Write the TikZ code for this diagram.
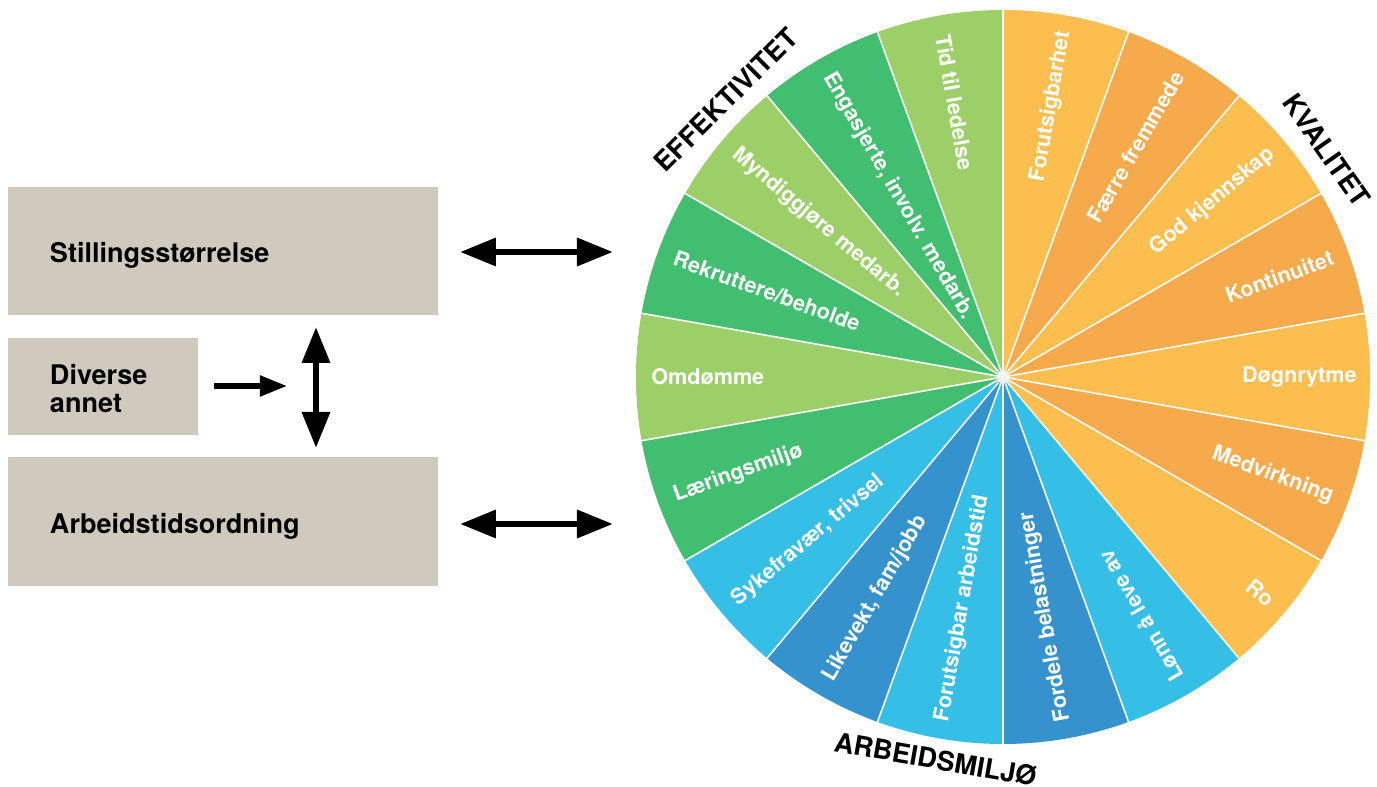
\documentclass[tikz,border=0pt]{standalone}
\usepackage{fontspec}
\setmainfont{TeX Gyre Heros}
\usepackage{tikz}
\usetikzlibrary{arrows.meta}
\pgfdeclarelayer{edgelayer}
\pgfdeclarelayer{nodelayer}
\pgfsetlayers{edgelayer,nodelayer,main}
\definecolor{lgreen}{HTML}{9CCF68}
\definecolor{dgreen}{HTML}{41BE6F}
\definecolor{lyellow}{HTML}{FBBE4F}
\definecolor{dorange}{HTML}{F6AA4C}
\definecolor{lblue}{HTML}{35BFE7}
\definecolor{dblue}{HTML}{3592CD}
\definecolor{sand}{HTML}{D0C9BD}
\tikzstyle{none} = []
\tikzstyle{sand box}=[fill=sand, inner xsep=0.84cm, inner ysep=0, align=left, font=\bfseries\fontsize{15.4}{16}\selectfont]
\tikzstyle{wheel label}=[text=white, inner sep=0, font=\bfseries\fontsize{12.3}{14}\selectfont]
\tikzstyle{group label}=[inner sep=0, font=\bfseries\fontsize{15.4}{16}\selectfont]
\tikzstyle{slice line}=[white, line width=0.9pt]
\tikzstyle{new edge style 1}=[{Triangle[length=0.72cm,width=0.54cm]}-{Triangle[length=0.72cm,width=0.54cm]}, line width=0.13cm]
\tikzstyle{new edge style 2}=[-{Triangle[length=0.54cm,width=0.4cm]}, line width=0.105cm]

\begin{document}
\begin{tikzpicture}
	\useasboundingbox (-20.06, -8.2) rectangle (7.48, 7.54);
	\begin{pgfonlayer}{nodelayer}
		\node [style=sand box, text width=6.92cm, text height=0.59cm, text depth=0.11cm, minimum height=2.56cm] (0) at (-15.6, 2.52) {Stillingsstørrelse};
		\node [style=sand box, text width=2.12cm, minimum height=1.94cm] (1) at (-18, -0.19) {\rule{0pt}{0.5cm}Diverse\\annet};
		\node [style=sand box, text width=6.92cm, text height=0.59cm, text depth=0.11cm, minimum height=2.58cm] (2) at (-15.6, -2.89) {Arbeidstidsordning};
		\node [style=none] (3) at (-10.86, 2.5) {};
		\node [style=none] (4) at (-7.8, 2.5) {};
		\node [style=none] (5) at (-10.86, -2.94) {};
		\node [style=none] (6) at (-7.8, -2.94) {};
		\node [style=none] (7) at (-13.74, 1) {};
		\node [style=none] (8) at (-13.74, -1.42) {};
		\node [style=none] (9) at (-15.78, -0.18) {};
		\node [style=none] (10) at (-14.32, -0.18) {};
		\node [style=wheel label, anchor=east, rotate=80] (11) at (80:7.02) {Forutsigbarhet};
		\node [style=wheel label, anchor=east, rotate=60] (12) at (60:7.02) {Færre fremmede};
		\node [style=wheel label, anchor=east, rotate=40] (13) at (40:7.02) {God kjennskap};
		\node [style=wheel label, anchor=east, rotate=20] (14) at (20:7.02) {Kontinuitet};
		\node [style=wheel label, anchor=east, rotate=0] (15) at (0:7.08) {Døgnrytme};
		\node [style=wheel label, anchor=east, rotate=-20] (16) at (-20:7.02) {Medvirkning};
		\node [style=wheel label, anchor=east, rotate=-40] (17) at (-40:7.02) {Ro};
		\node [style=wheel label, anchor=west, rotate=120] (18) at (-60:7) {Lønn å leve av};
		\node [style=wheel label, anchor=west, rotate=100] (19) at (-80:7) {Fordele belastninger};
		\node [style=wheel label, anchor=west, rotate=80] (20) at (-100:7) {Forutsigbar arbeidstid};
		\node [style=wheel label, anchor=west, rotate=60] (21) at (-120:7) {Likevekt, fam/jobb};
		\node [style=wheel label, anchor=west, rotate=40] (22) at (-140:7) {Sykefravær, trivsel};
		\node [style=wheel label, anchor=west, rotate=20] (23) at (-160:7) {Læringsmiljø};
		\node [style=wheel label, anchor=west, rotate=0] (24) at (180:7.04) {Omdømme};
		\node [style=wheel label, anchor=west, rotate=-20] (25) at (160:7) {Rekruttere/beholde};
		\node [style=wheel label, anchor=west, rotate=-40] (26) at (140:7) {Myndiggjøre medarb.};
		\node [style=wheel label, anchor=west, rotate=-60] (27) at (120:7) {Engasjerte, involv. medarb.};
		\node [style=wheel label, anchor=west, rotate=-80] (28) at (100:6.96) {Tid til ledelse};
		\node [style=group label, rotate=45] (29) at (135:7.84) {EFFEKTIVITET};
		\node [style=group label, rotate=-55] (30) at (35:7.9) {KVALITET};
		\node [style=group label, rotate=-10] (31) at (-100:7.76) {ARBEIDSMILJØ};
	\end{pgfonlayer}
	\begin{pgfonlayer}{edgelayer}
		\fill [lyellow] (0,0) -- (90:7.34) arc (90:70:7.34) -- cycle;
		\fill [dorange] (0,0) -- (70:7.34) arc (70:50:7.34) -- cycle;
		\fill [lyellow] (0,0) -- (50:7.34) arc (50:30:7.34) -- cycle;
		\fill [dorange] (0,0) -- (30:7.34) arc (30:10:7.34) -- cycle;
		\fill [lyellow] (0,0) -- (10:7.34) arc (10:-10:7.34) -- cycle;
		\fill [dorange] (0,0) -- (-10:7.34) arc (-10:-30:7.34) -- cycle;
		\fill [lyellow] (0,0) -- (-30:7.34) arc (-30:-50:7.34) -- cycle;
		\fill [lblue] (0,0) -- (-50:7.34) arc (-50:-70:7.34) -- cycle;
		\fill [dblue] (0,0) -- (-70:7.34) arc (-70:-90:7.34) -- cycle;
		\fill [lblue] (0,0) -- (-90:7.34) arc (-90:-110:7.34) -- cycle;
		\fill [dblue] (0,0) -- (-110:7.34) arc (-110:-130:7.34) -- cycle;
		\fill [lblue] (0,0) -- (-130:7.34) arc (-130:-150:7.34) -- cycle;
		\fill [dgreen] (0,0) -- (-150:7.34) arc (-150:-170:7.34) -- cycle;
		\fill [lgreen] (0,0) -- (190:7.34) arc (190:170:7.34) -- cycle;
		\fill [dgreen] (0,0) -- (170:7.34) arc (170:150:7.34) -- cycle;
		\fill [lgreen] (0,0) -- (150:7.34) arc (150:130:7.34) -- cycle;
		\fill [dgreen] (0,0) -- (130:7.34) arc (130:110:7.34) -- cycle;
		\fill [lgreen] (0,0) -- (110:7.34) arc (110:90:7.34) -- cycle;
		\draw [style=slice line] (0,0) -- (90:7.34);
		\draw [style=slice line] (0,0) -- (70:7.34);
		\draw [style=slice line] (0,0) -- (50:7.34);
		\draw [style=slice line] (0,0) -- (30:7.34);
		\draw [style=slice line] (0,0) -- (10:7.34);
		\draw [style=slice line] (0,0) -- (-10:7.34);
		\draw [style=slice line] (0,0) -- (-30:7.34);
		\draw [style=slice line] (0,0) -- (-50:7.34);
		\draw [style=slice line] (0,0) -- (-70:7.34);
		\draw [style=slice line] (0,0) -- (-90:7.34);
		\draw [style=slice line] (0,0) -- (-110:7.34);
		\draw [style=slice line] (0,0) -- (-130:7.34);
		\draw [style=slice line] (0,0) -- (-150:7.34);
		\draw [style=slice line] (0,0) -- (-170:7.34);
		\draw [style=slice line] (0,0) -- (170:7.34);
		\draw [style=slice line] (0,0) -- (150:7.34);
		\draw [style=slice line] (0,0) -- (130:7.34);
		\draw [style=slice line] (0,0) -- (110:7.34);
		\draw [style=new edge style 1] (3.center) to (4.center);
		\draw [style=new edge style 1] (5.center) to (6.center);
		\draw [style=new edge style 1] (7.center) to (8.center);
		\draw [style=new edge style 2] (9.center) to (10.center);
	\end{pgfonlayer}
\end{tikzpicture}
\end{document}
